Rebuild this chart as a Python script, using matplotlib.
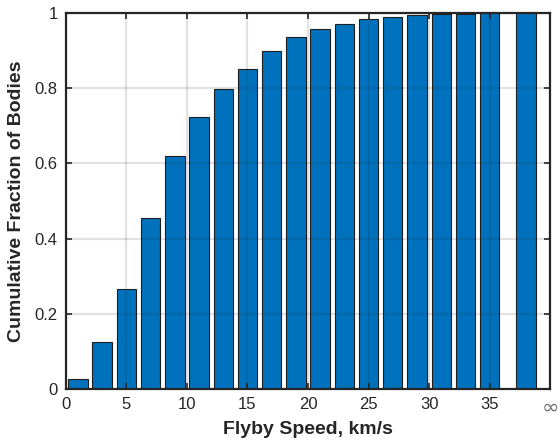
import matplotlib

matplotlib.use("Agg")
import matplotlib.pyplot as plt

plt.rcParams["font.family"] = ["Liberation Sans", "DejaVu Sans"]

# bin centres (km/s); the last one is the open-ended bin shown at "inf"
speed_centres = [1, 3, 5, 7, 9, 11, 13, 15, 17, 19, 21, 23, 25, 27, 29, 31, 33, 35, 38]
cum_fraction = [0.027, 0.126, 0.266, 0.455, 0.620, 0.723, 0.797, 0.852, 0.900,
                0.936, 0.957, 0.971, 0.983, 0.989, 0.995, 0.997, 0.998, 0.999, 1.0]
xtick_vals = [0, 5, 10, 15, 20, 25, 30, 35, 40]
xtick_labels = ["0", "5", "10", "15", "20", "25", "30", "35", "\u221e"]
ytick_vals = [0, 0.2, 0.4, 0.6, 0.8, 1.0]
ytick_labels = ["0", "0.2", "0.4", "0.6", "0.8", "1"]

TXT = "#262626"

fig = plt.figure(figsize=(5.58, 4.47), dpi=100)
ax = fig.add_axes([0.118, 0.130, 0.868, 0.841])

ax.bar(speed_centres, cum_fraction, width=1.6, color="#0072BD",
       edgecolor="#1f1f1f", linewidth=0.8, zorder=2)

ax.set_xlim(0, 40)
ax.set_ylim(0, 1)
ax.set_xticks(xtick_vals)
ax.set_xticklabels(xtick_labels)
ax.set_yticks(ytick_vals)
ax.set_yticklabels(ytick_labels)

ax.grid(True, color="#262626", alpha=0.13, linewidth=1.6)
ax.set_axisbelow(False)

ax.tick_params(direction="in", top=True, right=True, length=4, width=1.2,
               colors=TXT, labelsize=12, pad=6)
inf_lbl = ax.get_xticklabels()[-1]
inf_lbl.set_color("#707070")
inf_lbl.set_fontfamily("DejaVu Sans")
inf_lbl.set_fontsize(15)
for sp in ax.spines.values():
    sp.set_linewidth(1.6)
    sp.set_color(TXT)
    sp.set_zorder(5)

ax.set_xlabel("Flyby Speed, km/s", fontsize=14, fontweight="bold", color=TXT, labelpad=3)
ax.set_ylabel("Cumulative Fraction of Bodies", fontsize=14, fontweight="bold",
              color=TXT, labelpad=7)

fig.savefig("out.png", dpi=100)
